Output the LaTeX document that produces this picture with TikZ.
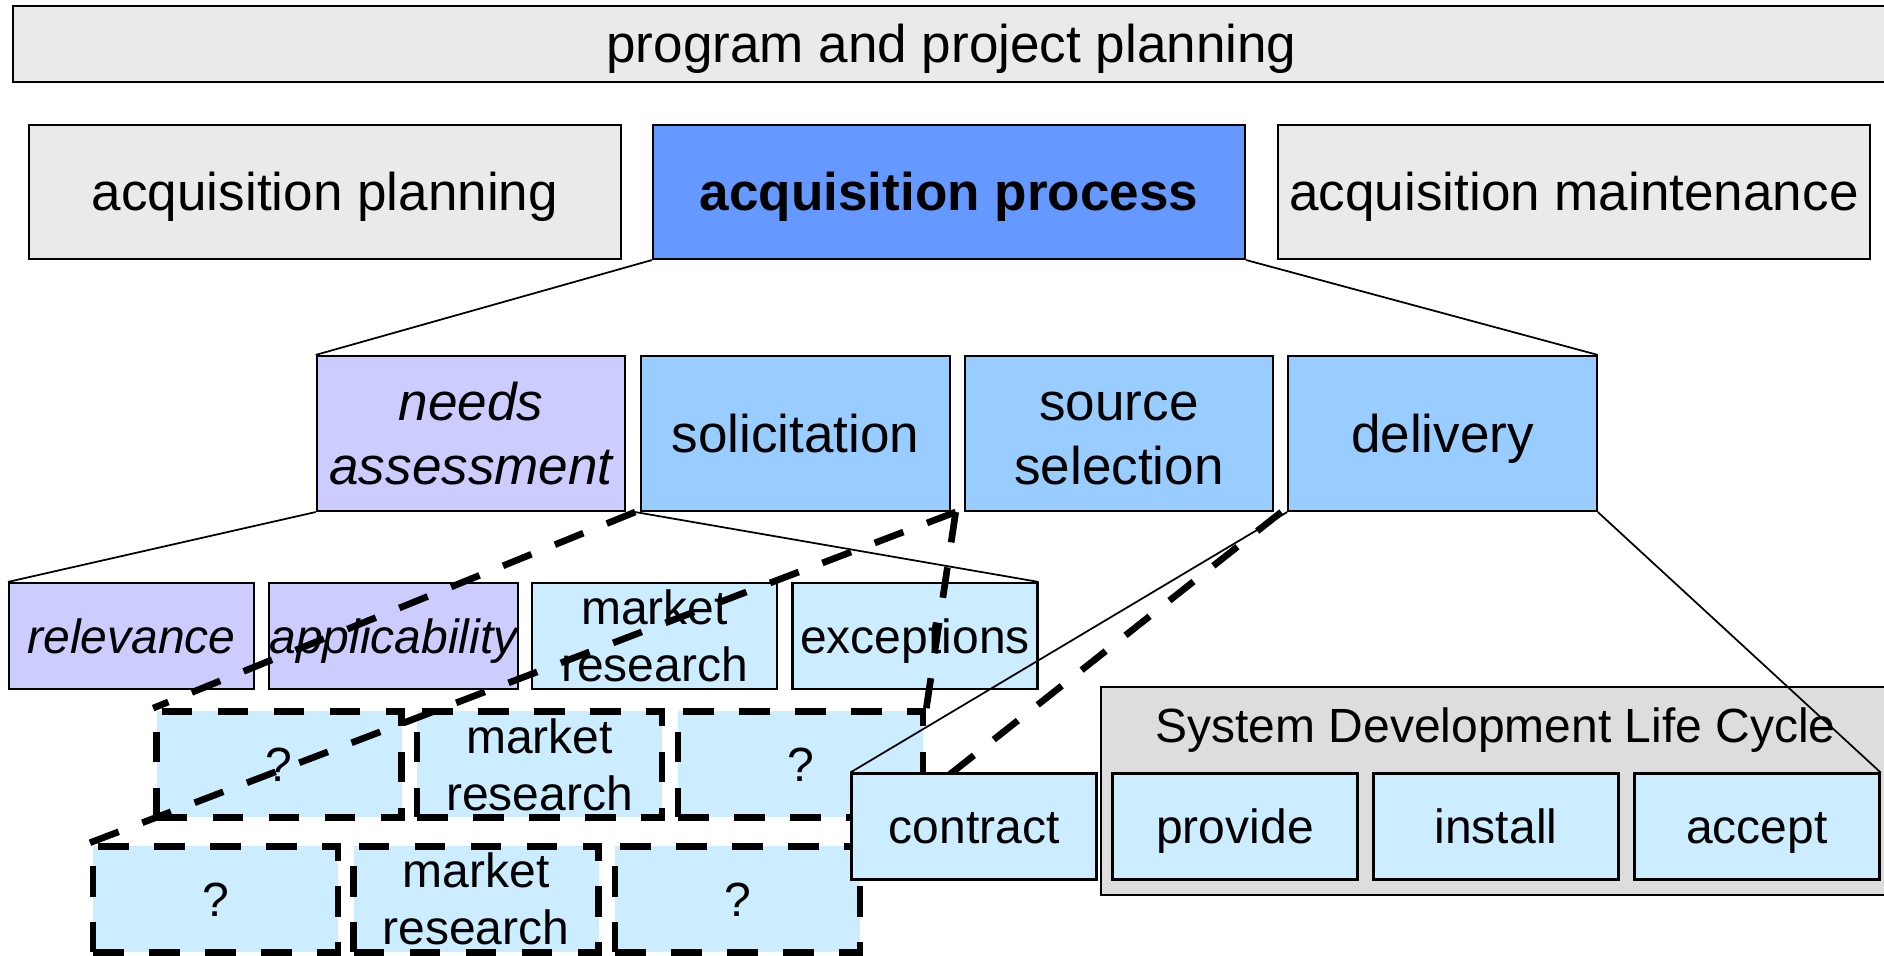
\documentclass[tikz,border=0pt]{standalone}
\usepackage{fontspec}
\setmainfont{Liberation Sans}
\definecolor{planfill}{HTML}{EAEAEA}
\definecolor{procfill}{HTML}{6699FF}
\definecolor{needfill}{HTML}{CCCCFF}
\definecolor{phasefill}{HTML}{99CCFF}
\definecolor{taskfill}{HTML}{CCECFF}
\definecolor{sdlcfill}{HTML}{DDDDDD}
\newcommand\mainsize{\fontsize{15.1pt}{18.2pt}\selectfont}
\newcommand\subsize{\fontsize{13.66pt}{16.2pt}\selectfont}

\begin{document}
\begin{tikzpicture}[
        cell/.style={draw, line width=0.6pt, inner sep=0pt, align=center, text depth=0pt},
        wide/.style={cell, minimum width=5.92cm, minimum height=1.34cm, font=\mainsize, text height=10.8pt},
        phase/.style={cell, minimum width=3.085cm, minimum height=1.55cm, font=\mainsize, text height=10.8pt},
        task/.style={cell, minimum width=2.45cm, minimum height=1.06cm, font=\subsize, text height=9.8pt},
        dtask/.style={task, fill=taskfill, line width=1.9pt, dash pattern=on 0.307cm off 0.253cm},
        twomain/.style={text height=29pt},
        twosub/.style={text height=26pt},
        tie/.style={line width=0.5pt},
        zoomln/.style={line width=1.9pt, dash pattern=on 0.307cm off 0.253cm}]
        \useasboundingbox (0,0) rectangle (18.84,9.56);
        \clip             (0,0) rectangle (18.84,9.56);
        \node[wide, fill=planfill, minimum width=18.77cm, minimum height=0.76cm] (prog) at (9.515,9.12) {program and project planning};
        \node[wide, fill=planfill]                         (aplan)  at (3.25,7.64)   {acquisition planning};
        \node[wide, fill=procfill, font=\mainsize\bfseries] (aproc) at (9.49,7.64)   {acquisition process};
        \node[wide, fill=planfill]                         (amaint) at (15.74,7.64)  {acquisition maintenance};
        \node[phase, twomain, fill=needfill, font=\mainsize\itshape] (needs) at (4.71,5.225) {needs\\assessment};
        \node[phase, fill=phasefill]                       (solic)  at (7.955,5.225) {solicitation};
        \node[phase, twomain, fill=phasefill]              (srcsel) at (11.19,5.225) {source\\selection};
        \node[phase, fill=phasefill]                       (deliv)  at (14.425,5.225) {delivery};
        \node[task, fill=needfill, font=\subsize\itshape]  (relev)  at (1.315,3.20)  {relevance};
        \node[task, fill=needfill, font=\subsize\itshape]  (applic) at (3.935,3.20)  {applicability};
        \node[task, twosub, fill=taskfill]                 (mres)   at (6.545,3.20)  {market\\research};
        \node[task, fill=taskfill]                         (excep)  at (9.15,3.20)   {exceptions};
        \node[cell, fill=sdlcfill, minimum width=7.89cm, minimum height=2.08cm] (sdlc) at (14.955,1.65) {};
        \node[anchor=base, font=\subsize]                  (sdlctxt) at (14.955,2.13) {System Development Life Cycle};
        \node[task, fill=taskfill]                         (prov)   at (12.35,1.295) {provide};
        \node[task, fill=taskfill]                         (inst)   at (14.96,1.295) {install};
        \node[task, fill=taskfill]                         (acc)    at (17.57,1.295) {accept};
        \node[dtask]         (qa)  at (2.79,1.915)  {?};
        \node[dtask, twosub] (mra) at (5.395,1.915) {market\\research};
        \node[dtask]         (qb)  at (8.005,1.915) {?};
        \node[dtask]         (qc)  at (2.155,0.568) {?};
        \node[dtask, twosub] (mrb) at (4.76,0.568)  {market\\research};
        \node[dtask]         (qd)  at (7.375,0.568) {?};
        \draw[tie]    (aproc.south west) -- (needs.north west);
        \draw[tie]    (aproc.south east) -- (deliv.north east);
        \draw[tie]    (needs.south west) -- (relev.north west);
        \draw[tie]    ([xshift=-0.05cm]solic.south west) -- (excep.north east);
        \draw[tie]    (deliv.south east) -- (acc.north east);
        \draw[zoomln] ([xshift=-0.05cm]solic.south west)  -- (qa.north west);
        \draw[zoomln] ([xshift=-0.08cm]srcsel.south west) -- (qb.north east);
        \draw[zoomln] ([xshift=-0.08cm]srcsel.south west) -- (qc.north west);
        \draw[zoomln] ([xshift=0.07cm]srcsel.south east)  -- (qd.north east);
        \node[task, fill=taskfill] (contr) at (9.74,1.295) {contract};
        \draw[tie]    (deliv.south west) -- (contr.north west);
    \end{tikzpicture}
\end{document}
